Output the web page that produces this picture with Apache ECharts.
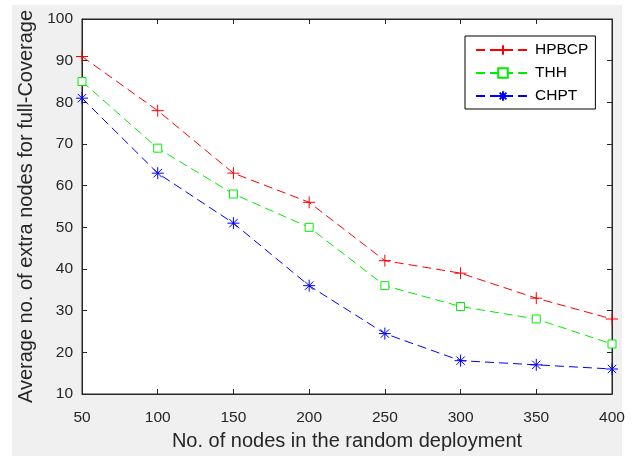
<!DOCTYPE html>
<html>
<head>
<meta charset="utf-8">
<script src="https://cdn.jsdelivr.net/npm/echarts@6/dist/echarts.min.js"></script>
<style>
  html, body { margin: 0; padding: 0; background: #fff; }
  #chart { width: 634px; height: 456px; }
</style>
</head>
<body>
<div id="chart"></div>
<script>
// data
const nodes = [50, 100, 150, 200, 250, 300, 350, 400]
const hpbcp = [91, 78, 63, 56, 42, 39, 33, 28]
const thh = [85, 69, 58, 50, 36, 31, 28, 22]
const chpt = [81, 63, 51, 36, 24.5, 18, 17, 16]

const axisColor = '#262626'
const font = 'Liberation Sans, Arial, sans-serif'

const plus = 'path://M5,0L5,10M0,5L10,5'
const square = 'path://M0,0L10,0L10,10L0,10Z'
const star = 'path://M5,0L5,10M0,5L10,5M1.5,1.5L8.5,8.5M8.5,1.5L1.5,8.5'

function pairs(ys) {
  return nodes.map((x, i) => [x, ys[i]])
}

function makeSeries(name, ys, color, symbol, size, fill) {
  return {
    name: name,
    type: 'line',
    data: pairs(ys),
    symbol: symbol,
    symbolSize: size,
    showAllSymbol: true,
    lineStyle: { color: color, width: 1, type: [9, 5] },
    itemStyle: { color: fill || color, borderColor: color, borderWidth: 1 },
    emphasis: { disabled: true },
    animation: false
  }
}

const chart = echarts.init(document.getElementById('chart'))

chart.setOption({
  backgroundColor: '#fff',
  graphic: [{
    type: 'rect',
    shape: { x: 12, y: 5, width: 610, height: 451 },
    style: { fill: '#f0f0f0' },
    z: -10,
    silent: true
  }],
  grid: {
    left: 82, top: 19, right: 22, bottom: 59,
    show: true,
    backgroundColor: '#fff',
    borderColor: axisColor,
    borderWidth: 1
  },
  legend: {
    orient: 'vertical',
    left: 465,
    top: 36,
    padding: [6, 7, 5, 10],
    itemGap: 7,
    itemWidth: 54,
    itemHeight: 12,
    backgroundColor: '#fff',
    borderColor: '#000',
    borderWidth: 1,
    textStyle: { fontFamily: font, fontSize: 15.5, color: '#000' },
    data: ['HPBCP', 'THH', 'CHPT']
  },
  xAxis: [{
    type: 'value',
    min: 50,
    max: 400,
    interval: 50,
    name: 'No. of nodes in the random deployment',
    nameLocation: 'middle',
    nameGap: 37,
    nameTextStyle: { fontFamily: font, fontSize: 20, color: axisColor },
    axisLine: { lineStyle: { color: axisColor } },
    axisTick: { inside: true, length: 5, lineStyle: { color: axisColor } },
    axisLabel: { fontFamily: font, fontSize: 15.5, color: axisColor, margin: 16 },
    splitLine: { show: false }
  }, {
    type: 'value',
    position: 'top',
    min: 50,
    max: 400,
    interval: 50,
    axisLine: { lineStyle: { color: axisColor } },
    axisTick: { inside: true, length: 5, lineStyle: { color: axisColor } },
    axisLabel: { show: false },
    splitLine: { show: false }
  }],
  yAxis: [{
    type: 'value',
    min: 10,
    max: 100,
    interval: 10,
    name: 'Average no. of extra nodes for full-Coverage',
    nameLocation: 'middle',
    nameGap: 41,
    nameTextStyle: { fontFamily: font, fontSize: 20, color: axisColor },
    axisLine: { show: true, lineStyle: { color: axisColor } },
    axisTick: { show: true, inside: true, length: 5, lineStyle: { color: axisColor } },
    axisLabel: { fontFamily: font, fontSize: 15.5, color: axisColor, margin: 9, padding: [4, 0, 0, 0] },
    splitLine: { show: false }
  }, {
    type: 'value',
    position: 'right',
    min: 10,
    max: 100,
    interval: 10,
    axisLine: { show: true, lineStyle: { color: axisColor } },
    axisTick: { show: true, inside: true, length: 5, lineStyle: { color: axisColor } },
    axisLabel: { show: false },
    splitLine: { show: false }
  }],
  series: [
    makeSeries('HPBCP', hpbcp, '#ff0000', plus, 12),
    makeSeries('THH', thh, '#00ee00', square, 8, '#fff'),
    makeSeries('CHPT', chpt, '#0000ff', star, 12)
  ]
})
</script>
</body>
</html>
